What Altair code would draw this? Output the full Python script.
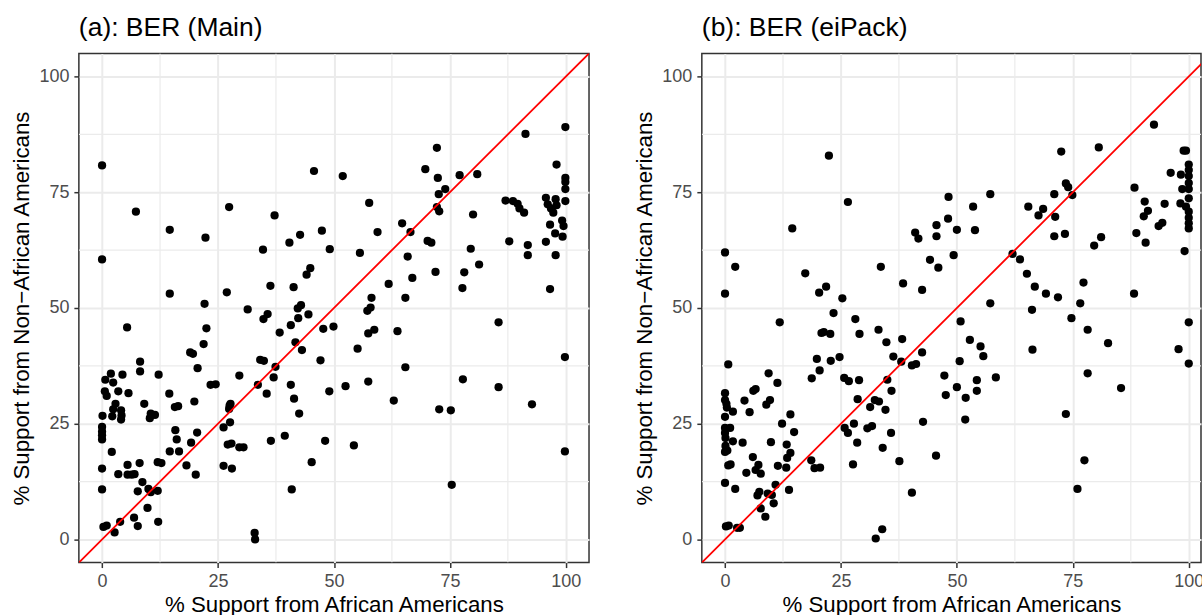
import altair as alt
import pandas as pd

# Estimated BER support shares by precinct: (a) main method, (b) eiPack
main_x = [
    0, 0, 0.1, 0, 0, 0, 0, 0, 0, 0.3, 1.0,
    0.7, 0.6, 1.0, 1.9, 2.4, 2.9, 2.4, 4.1, 2.2, 4.2, 4.1,
    2.1, 3.5, 3.9, 2.7, 3.5, 4.4, 5.4,
    5.7, 5.5, 5.5, 6.4, 7.0, 7.3, 8.2, 8.2, 8.1, 8.7, 7.7, 9.8, 6.9, 7.7, 9.1,
    10.5, 11.4, 10.3, 10.0, 10.5, 12.0, 12.2, 12.0, 12.8, 12.1, 14.5, 14.6, 14.6, 14.6,
    15.7, 16.4, 15.8, 16.1, 16.6, 18.2, 19.0, 19.6, 20.6, 19.9, 20.5, 19.2, 20.2,
    21.9, 22.5, 22.1, 22.3, 23.4, 24.5,
    26.2, 27.6, 27.5, 27.7, 27.4, 27.1, 27.9, 26.2, 28.0, 29.6, 30.5, 29.6, 26.9,
    27.4, 31.4, 32.9, 33.0, 33.6, 34.1, 34.9, 34.8, 35.7, 34.7,
    35.5, 36.4, 37.0, 37.4, 36.3, 37.2, 38.3, 39.4, 40.7, 40.7, 41.4, 40.9, 40.4,
    41.3, 41.7, 42.3, 42.2, 42.9, 42.5, 43.1, 42.7, 44.5, 44.1, 44.9, 45.2, 45.7,
    47.4, 47.7, 49.9, 47.1, 49.0, 48.1, 49.1, 51.9, 52.5, 54.3, 55.1, 55.6, 57.4,
    58.7, 57.4, 57.6, 58.1, 57.9, 57.2, 59.4,
    61.8, 62.9, 63.7, 64.7, 65.9, 65.4, 65.4, 66.5, 66.9, 69.7, 70.2, 71.0, 71.9,
    72.2, 72.4, 72.6, 74.0, 72.2, 72.7, 72.7, 75.2, 75.4, 77.1, 77.7, 77.8, 78.1, 79.5,
    80.9, 80.0, 81.3, 85.5, 85.5, 87.0, 88.6, 89.6, 90.0, 91.0, 87.8, 91.3, 91.8,
    91.8, 92.7, 95.7, 96.1, 96.8, 97.3, 97.8, 98.0, 96.6, 97.7, 95.7, 97.8, 96.6,
    98.0, 99.2, 99.5, 99.3, 99.9, 99.9, 99.9, 99.9, 99.9, 99.8, 99.8,
]
main_y = [
    80.8, 60.5, 26.7, 24.3, 23.3, 22.5, 21.6, 15.3, 10.8, 2.7, 3.0,
    34.5, 32.0, 31.0, 35.8, 33.9, 29.3, 28.1, 27.9, 26.6, 26.8, 25.9,
    18.9, 14.1, 3.8, 1.5, 32.0, 35.6, 45.8,
    31.6, 16.1, 14.0, 14.0, 14.1, 70.8, 38.4, 36.3, 16.5, 12.4, 10.4, 6.8, 4.7, 2.9, 29.3,
    27.2, 26.9, 26.2, 10.9, 10.2, 10.5, 35.6, 16.7, 16.5, 3.8, 31.5, 19.0, 66.9, 53.1,
    28.6, 28.8, 23.6, 21.6, 19.0, 16.0, 40.4, 40.1, 37.0, 29.8, 23.1, 20.9, 14.0,
    42.2, 45.6, 50.9, 65.2, 33.4, 33.5,
    24.2, 25.3, 28.9, 29.3, 28.2, 20.5, 20.7, 15.9, 15.3, 19.9, 19.9, 35.4, 53.4,
    71.8, 49.7, 1.4, 0.0, 33.4, 38.8, 38.6, 47.6, 48.7, 62.6,
    31.5, 21.3, 35.0, 37.3, 54.8, 70.0, 44.7, 22.4, 46.3, 33.4, 30.4, 10.8, 64.1,
    54.5, 42.6, 47.8, 49.9, 50.6, 27.2, 40.9, 65.8, 48.6, 57.2, 58.6, 16.7, 79.6,
    66.7, 45.5, 46.0, 38.7, 32.0, 21.3, 62.7, 78.5, 33.1, 20.3, 41.2, 61.9, 44.5,
    45.3, 34.1, 72.7, 52.2, 50.1, 49.4, 66.4,
    55.2, 30.0, 45.0, 68.3, 61.1, 52.2, 37.2, 66.4, 56.5, 80.0, 64.5, 64.1, 57.8,
    84.6, 78.1, 74.6, 75.7, 71.8, 70.9, 28.1, 27.9, 11.8, 78.7, 54.3, 34.6, 57.7, 62.8,
    78.9, 70.2, 59.4, 46.9, 32.9, 73.2, 73.1, 72.5, 71.5, 70.6, 64.4, 87.6, 63.6,
    61.4, 29.2, 73.8, 72.4, 71.5, 70.6, 73.5, 72.2, 68.0, 66.1, 64.3, 61.4, 54.1,
    81.0, 68.9, 67.7, 65.4, 89.1, 78.1, 77.2, 75.7, 73.1, 39.4, 19.0,
]

eipack_x = [
    0, 2.2, 0, 0.7, 0, 0, 0.3, 0.4, 1.7, 0, 0, 1.1, 0, 0.1, 1.7, 0.1, 0.5, 0,
    0.7, 1.2, 0, 2.2, 0.2, 0.8, 2.6, 3.2,
    3.8, 4.2, 5.3, 6.1, 6.6, 6.0, 7.2, 6.6, 7.7, 4.6, 7.4, 7.0, 7.7, 8.7, 9.4,
    8.9, 9.7, 9.9, 9.2, 10.1, 10.5,
    11.3, 12.3, 14.1, 14.9, 13.3, 14.1, 13.4, 11.4, 13.2, 10.9, 13.8, 11.8, 14.5,
    18.7, 20.4, 19.8, 22.8, 24.7, 20.8, 21.3, 22.7, 23.4, 18.6, 19.3, 20.5, 17.3,
    20.3, 21.8, 22.4,
    25.3, 26.5, 28.1, 29.0, 25.7, 26.7, 28.9, 28.6, 32.3, 33.2, 31.3, 34.6, 25.8,
    26.5, 27.8, 30.7, 31.7, 28.5, 34.0, 27.6, 32.5, 33.9, 33.1, 34.8, 33.6, 35.0,
    35.9, 35.8, 37.6, 36.3, 38.0, 40.3, 41.2, 42.5, 38.2, 38.4, 41.0, 41.7, 42.5,
    44.2, 42.7, 40.3,
    45.6, 45.6, 46.0, 45.5, 47.3, 47.6, 48.1, 48.2, 50.0, 49.3, 50.8, 50.6, 50.0,
    51.9, 51.8, 52.8, 53.5, 53.9, 55.1, 55.7, 54.3, 54.3, 57.2, 57.2, 58.4,
    62.0, 63.6, 65.1, 66.8, 66.2, 66.3, 65.4, 67.6, 68.6, 69.2, 71.0, 71.2, 71.0,
    71.8, 72.5, 73.3, 73.5, 74.0, 74.9, 74.7, 73.5, 76.6, 77.3, 76.0, 77.5, 78.2,
    78.2, 79.6,
    80.6, 81.1, 82.6, 85.4, 88.2, 88.3, 88.7, 90.7, 90.5, 91.2, 90.3, 93.5, 94.3,
    92.5, 94.8, 96.1, 99.1, 98.9, 99.4, 100, 100, 100, 100, 100, 98.3, 98.6, 100,
    98.2, 99.4, 100, 100, 100, 100, 100, 97.8, 100,
]
eipack_y = [
    62.0, 58.9, 53.1, 37.8, 31.6, 30.1, 29.3, 28.5, 27.6, 26.5, 24.1, 24.1, 23.0,
    21.9, 21.2, 20.2, 19.2, 18.9, 16.0, 16.2, 12.2, 10.9, 2.8, 3.0, 2.5, 2.5,
    20.9, 30.0, 27.5, 32.1, 32.5, 17.8, 16.1, 15.0, 14.2, 14.4, 10.3, 9.5, 6.7, 4.9,
    35.9, 29.1, 30.1, 21.0, 9.9, 9.6, 7.8,
    33.8, 25.0, 27.0, 23.2, 20.5, 18.7, 17.6, 15.9, 15.5, 11.8, 10.7, 46.9, 67.2,
    34.8, 36.5, 39.0, 38.6, 39.4, 44.6, 44.8, 44.4, 48.9, 17.1, 15.4, 15.5, 57.5,
    53.3, 54.6, 82.9,
    52.1, 72.9, 47.6, 44.4, 34.9, 34.2, 34.4, 30.3, 30.1, 29.8, 28.6, 28.0, 24.1,
    23.0, 25.0, 24.0, 24.5, 20.9, 19.8, 16.2, 0.2, 2.2, 45.3, 42.6, 58.9, 34.5,
    32.1, 23.0, 16.9, 39.5, 38.4, 37.6, 37.9, 40.4, 43.3, 55.3, 66.3, 65.0, 53.9,
    60.4, 25.4, 10.1,
    67.9, 65.5, 58.7, 18.1, 35.4, 31.2, 69.3, 74.0, 66.9, 61.4, 47.1, 38.5, 32.9,
    30.6, 25.9, 43.1, 71.9, 66.8, 41.7, 39.6, 34.4, 32.1, 74.6, 51.0, 35.0,
    61.7, 60.5, 57.4, 54.6, 49.6, 41.0, 71.9, 70.0, 71.4, 53.1, 74.6, 69.7, 65.5,
    52.3, 83.8, 66.0, 76.9, 76.1, 74.4, 47.8, 27.1, 51.0, 55.5, 10.9, 17.1, 45.3,
    35.9, 63.5,
    84.7, 65.3, 42.4, 32.7, 53.1, 76.0, 66.2, 64.1, 73.0, 71.0, 69.8, 67.7, 68.4,
    89.6, 72.5, 79.2, 62.3, 84.0, 84.0, 81.0, 79.8, 78.5, 77.0, 75.7, 78.8, 75.7, 73.7,
    72.6, 71.9, 70.8, 69.5, 68.3, 67.2, 46.9, 41.1, 38.0,
]

major_ticks = [0, 25, 50, 75, 100]
minor_ticks = [12.5, 37.5, 62.5, 87.5]
identity = [-5, 110]

FONT = "Liberation Sans"
PANEL_H = 510
X_TITLE = "% Support from African Americans"
Y_TITLE = "% Support from Non\u2212African Americans"


def panel(xs, ys, title, width, xmax):
    xscale = alt.Scale(domain=[-5, xmax], nice=False, zero=False)
    yscale = alt.Scale(domain=[-5, 105], nice=False, zero=False)
    xaxis = alt.Axis(
        values=major_ticks, title=X_TITLE, titleX=width / 2, titleY=49,
        titleAlign="center", titleBaseline="alphabetic", labelFlush=False,
    )
    yaxis = alt.Axis(
        values=major_ticks, title=Y_TITLE, titleX=-50, titleY=PANEL_H / 2,
        titleAngle=270, titleAlign="center", titleBaseline="alphabetic",
        labelFlush=False,
    )
    x_enc = lambda f: alt.X(f, type="quantitative", scale=xscale, axis=xaxis)
    y_enc = lambda f: alt.Y(f, type="quantitative", scale=yscale, axis=yaxis)

    minor = pd.DataFrame({"v": minor_ticks})
    minor_v = alt.Chart(minor).mark_rule(color="#EBEBEB", strokeWidth=1.2, clip=True).encode(x=x_enc("v"))
    minor_h = alt.Chart(minor).mark_rule(color="#EBEBEB", strokeWidth=1.2, clip=True).encode(y=y_enc("v"))

    pts = alt.Chart(pd.DataFrame({"x": xs, "y": ys})).mark_circle(
        color="black", size=68, opacity=1
    ).encode(x=x_enc("x"), y=y_enc("y"))

    diag = alt.Chart(pd.DataFrame({"x": identity, "y": identity})).mark_line(
        color="#FF0000", strokeWidth=1.8, clip=True
    ).encode(x=x_enc("x"), y=y_enc("y"))

    return alt.layer(minor_v, minor_h, pts, diag).properties(
        width=width, height=PANEL_H,
        title=alt.TitleParams(title, anchor="start", frame="group", offset=-9,
                              baseline="alphabetic"),
    )


left = panel(main_x, main_y, "(a): BER (Main)", 511, 105)
right = panel(eipack_x, eipack_y, "(b): BER (eiPack)", 500, 102.64)

chart = (
    alt.hconcat(left, right, spacing=113, bounds="flush")
    .properties(padding={"left": 10, "top": 13, "right": -3, "bottom": -1})
    .configure_view(stroke="#333333", strokeWidth=1.5)
    .configure_axis(
        domain=False, grid=True, gridColor="#EBEBEB", gridWidth=2,
        tickColor="#333333", tickSize=5, tickWidth=1.5,
        labelFont=FONT, labelFontSize=18, labelColor="#4D4D4D", labelPadding=5,
        titleFont=FONT, titleFontSize=22.3, titleColor="black", titleFontWeight="normal",
    )
    .configure_title(font=FONT, fontSize=26.5, color="black", fontWeight="normal")
)

chart.save("out.html", embed_options={"renderer": "svg", "actions": False})
